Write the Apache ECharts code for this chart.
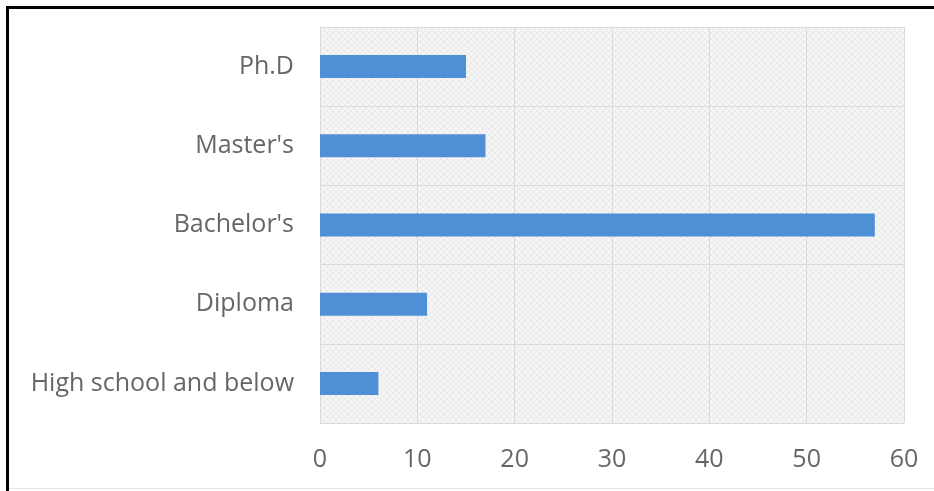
<!DOCTYPE html>
<html>
<head>
<meta charset="utf-8">
<script src="https://cdn.jsdelivr.net/npm/echarts@6/dist/echarts.min.js"></script>
<style>
  html, body { margin: 0; padding: 0; background: #fff; }
  #chart { width: 934px; height: 491px; }
</style>
</head>
<body>
<div id="chart"></div>
<script>
// Education levels, bottom to top
const categories = ['High school and below', 'Diploma', "Bachelor's", "Master's", 'Ph.D'];
const counts = [6, 11, 57, 17, 15];
const xTicks = [0, 10, 20, 30, 40, 50, 60];

// Fine diagonal hatch used as the plot-area fill
function hatchPattern() {
  const c = document.createElement('canvas');
  c.width = 6; c.height = 6;
  const g = c.getContext('2d');
  g.fillStyle = '#f5f5f5';
  g.fillRect(0, 0, 6, 6);
  g.strokeStyle = '#e9e9e9';
  g.lineWidth = 1;
  g.beginPath();
  g.moveTo(0, 6); g.lineTo(6, 0);
  g.moveTo(0, 0); g.lineTo(6, 6);
  g.stroke();
  return c;
}

const chart = echarts.init(document.getElementById('chart'), null, { renderer: 'canvas' });
const labelFont = { color: '#666666', fontSize: 25, fontFamily: 'Open Sans' };

chart.setOption({
  animation: false,
  backgroundColor: '#fff',
  grid: {
    left: 320, right: 30, top: 27, bottom: 68,
    show: true,
    backgroundColor: { image: hatchPattern(), repeat: 'repeat' },
    borderWidth: 0
  },
  xAxis: {
    type: 'value',
    min: xTicks[0],
    max: xTicks[xTicks.length - 1],
    interval: 10,
    axisLine: { show: false },
    axisTick: { show: false },
    splitLine: { show: true, lineStyle: { color: '#dadada', width: 1 } },
    axisLabel: Object.assign({ margin: 24 }, labelFont)
  },
  yAxis: {
    type: 'category',
    data: categories,
    axisLine: { show: false },
    axisTick: { show: false },
    splitLine: { show: true, lineStyle: { color: '#dadada', width: 1 } },
    axisLabel: Object.assign({ margin: 26 }, labelFont)
  },
  series: [{
    type: 'bar',
    data: counts,
    barWidth: '29%',
    itemStyle: { color: '#4f8fd6' }
  }],
  graphic: [
    // frame: heavy top and left edges, light bottom edge
    { type: 'rect', shape: { x: 6, y: 6, width: 928, height: 3 }, style: { fill: '#000' }, z: 100 },
    { type: 'rect', shape: { x: 6, y: 6, width: 3, height: 485 }, style: { fill: '#000' }, z: 100 },
    { type: 'rect', shape: { x: 9, y: 488, width: 925, height: 1 }, style: { fill: '#e3e3e3' }, z: 100 }
  ]
});
</script>
</body>
</html>
